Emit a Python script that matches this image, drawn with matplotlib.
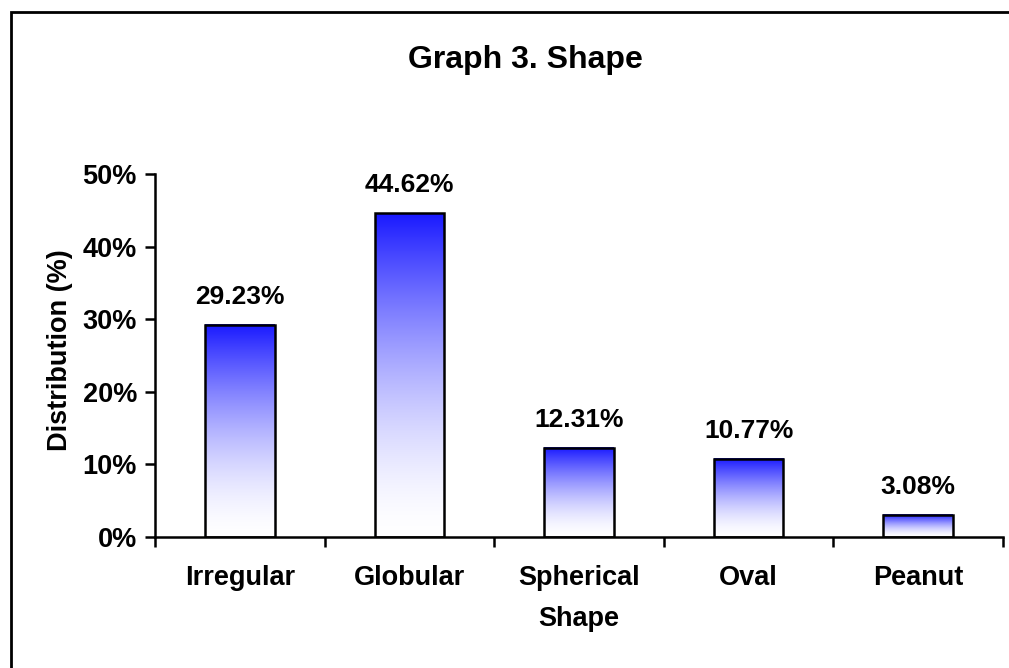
import numpy as np
import matplotlib.pyplot as plt
from matplotlib.patches import Rectangle
from matplotlib.ticker import FuncFormatter

plt.rcParams['font.family'] = ['Liberation Sans', 'DejaVu Sans']
plt.rcParams['font.weight'] = 'bold'

categories = ['Irregular', 'Globular', 'Spherical', 'Oval', 'Peanut']
values = [29.23, 44.62, 12.31, 10.77, 3.08]
yticks = [0, 10, 20, 30, 40, 50]

W, H = 1009, 668
fig = plt.figure(figsize=(W / 100, H / 100), dpi=100)

# outer frame (only top/left edges lie inside the image)
fig.patches.append(Rectangle((11 / W, -0.1), 1.2, 1 - 12 / H + 0.1,
                             transform=fig.transFigure, fill=False,
                             edgecolor='black', linewidth=2))

ax = fig.add_axes([155 / W, 1 - 537 / H, (1003 - 155) / W, (537 - 174) / H])

# blue -> white vertical gradient
t = np.linspace(0, 1, 256) ** 1.6
top = np.array([0.1, 0.1, 1.0])
grad = (1 - t)[:, None] * np.ones(3) + t[:, None] * top
grad = grad[:, None, :]

bw = 0.41
for i, v in enumerate(values):
    ax.imshow(grad, extent=(i - bw / 2, i + bw / 2, 0, v), origin='lower',
              aspect='auto', interpolation='bilinear', zorder=2)
    ax.bar(i, v, width=bw, facecolor='none', edgecolor='black', linewidth=1.8, zorder=3)
    ax.annotate(f'{v:.2f}%', (i, v), xytext=(0, 15), textcoords='offset points',
                ha='center', va='baseline', fontsize=19, fontweight='bold')

ax.set_xlim(-0.5, len(categories) - 0.5)
ax.set_ylim(0, 50)

ax.set_xticks(np.arange(len(categories)))
ax.set_xticklabels(categories, fontsize=19.5, fontweight='bold')
ax.set_xticks(np.arange(len(categories) + 1) - 0.5, minor=True)
ax.tick_params(axis='x', which='major', length=0, pad=20)
ax.tick_params(axis='x', which='minor', length=7, width=1.8, direction='out')
ax.set_yticks(yticks)
ax.yaxis.set_major_formatter(FuncFormatter(lambda y, p: f'{int(y)}%'))
ax.tick_params(axis='y', length=7, width=1.8, direction='out', labelsize=19.5, pad=6)
for lab in ax.get_yticklabels():
    lab.set_fontweight('bold')

for s in ['top', 'right']:
    ax.spines[s].set_visible(False)
for s in ['left', 'bottom']:
    ax.spines[s].set_linewidth(1.8)

ax.set_xlabel('Shape', fontsize=19.5, fontweight='bold', labelpad=11)
ax.set_ylabel('Distribution (%)', fontsize=19.5, fontweight='bold')
ax.yaxis.set_label_coords(-0.097, 0.515)

fig.text(525 / W, 1 - 60 / H, 'Graph 3. Shape', ha='center', va='center',
         fontsize=23, fontweight='bold')

fig.savefig('out.png', dpi=100)
